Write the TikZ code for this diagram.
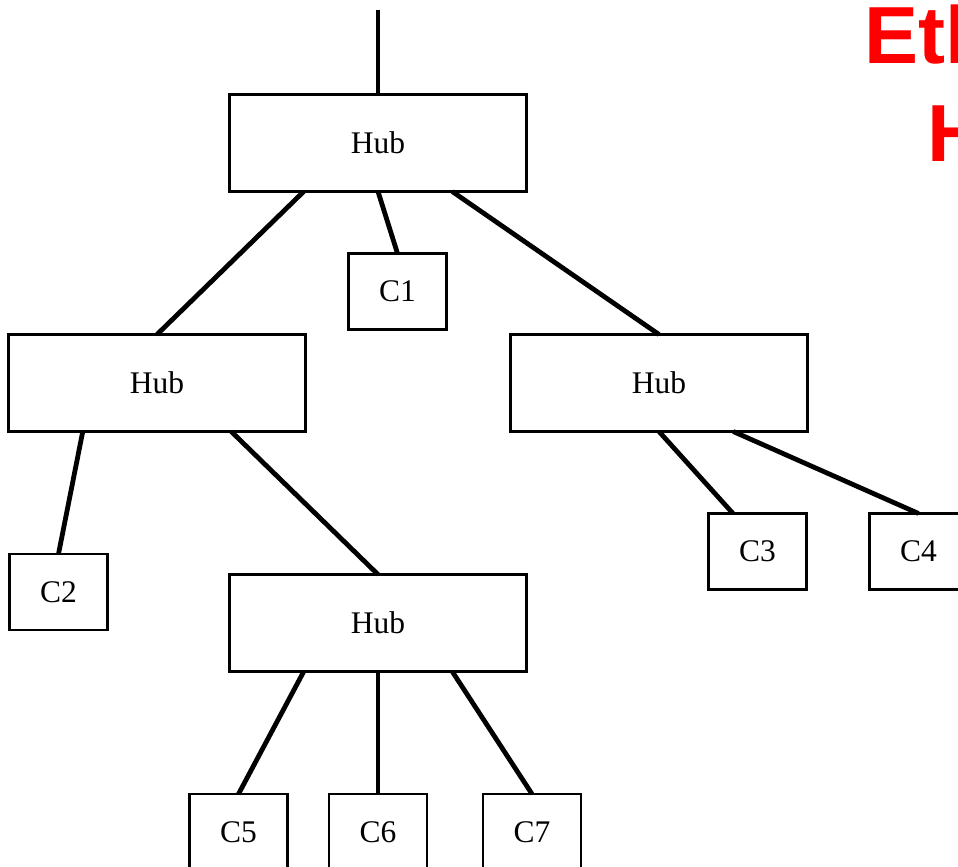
\documentclass[tikz,border=0pt]{standalone}
\usepackage{fontspec}
\setmainfont{Liberation Serif}
\newfontfamily\titlefont{Liberation Sans}
\usetikzlibrary{calc}
\begin{document}
\begin{tikzpicture}[x=1pt,y=-1pt,
        hub/.style={draw,line width=2.2pt,minimum width=297pt,minimum height=97pt,inner sep=0pt,outer sep=0pt,font=\fontsize{31.5}{36}\selectfont},
        comp/.style={draw,line width=2.2pt,minimum width=98pt,minimum height=76pt,inner sep=0pt,outer sep=0pt,font=\fontsize{31.5}{36}\selectfont},
        link/.style={line width=4.8pt},
        title/.style={text=red,align=center,inner sep=0pt,font=\titlefont\bfseries\fontsize{81}{98}\selectfont}]
        \useasboundingbox (0,0) rectangle (958,867);
        \clip (0,0) rectangle (958,867);

        \node[title,anchor=north west] (title) at (864,5) {Ethernet\\Hubs};

        \coordinate (feed) at (378,10);
        \node[hub] (htop) at (378,143) {Hub};
        \node[hub] (hleft) at (157,383) {Hub};
        \node[hub] (hright) at (659,383) {Hub};
        \node[hub] (hbot) at (378,623) {Hub};
        \node[comp] (c1) at (397.5,291.5) {C1};
        \node[comp] (c2) at (58.5,592) {C2};
        \node[comp] (c3) at (757.5,551.5) {C3};
        \node[comp] (c4) at (918.5,551.5) {C4};
        \node[comp] (c5) at (238.5,832) {C5};
        \node[comp] (c6) at (378,832) {C6};
        \node[comp] (c7) at (532,832) {C7};

        \path [link] (feed) edge (htop.north);
        \path [link] ($(htop.south west)!.25!(htop.south east)$) edge (hleft.north);
        \path [link] (htop.south) edge (c1.north);
        \path [link] ($(htop.south west)!.75!(htop.south east)$) edge (hright.north);
        \path [link] ($(hleft.south west)!.25!(hleft.south east)$) edge (c2.north);
        \path [link] ($(hleft.south west)!.75!(hleft.south east)$) edge (hbot.north);
        \path [link] (hright.south) edge ($(c3.north west)!.25!(c3.north east)$);
        \path [link] ($(hright.south west)!.75!(hright.south east)$) edge (c4.north);
        \path [link] ($(hbot.south west)!.25!(hbot.south east)$) edge (c5.north);
        \path [link] (hbot.south) edge (c6.north);
        \path [link] ($(hbot.south west)!.75!(hbot.south east)$) edge (c7.north);
\end{tikzpicture}
\end{document}
